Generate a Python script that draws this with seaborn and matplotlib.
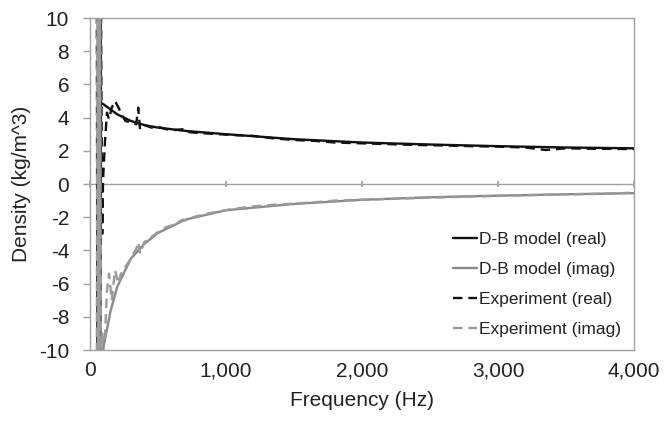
import pandas as pd
import numpy as np
import matplotlib
matplotlib.use("Agg")
import matplotlib.pyplot as plt
import seaborn as sns

# model curves (D-B model)
model_freq = [60, 64, 68, 72, 76, 80, 100, 150, 200, 300, 400, 500, 700, 1000,
              1500, 2000, 2500, 3000, 3500, 4000]
model_real = [12, -12, 12, -12, 12, 4.9, 4.8, 4.5, 4.2, 3.8, 3.55, 3.4, 3.2, 3.0,
              2.7, 2.5, 2.38, 2.28, 2.2, 2.15]
model_imag = [-12, 12, -12, 12, -12, -11.5, -9.8, -7.7, -6.2, -4.5, -3.6, -2.95, -2.15, -1.58,
              -1.2, -0.95, -0.8, -0.7, -0.62, -0.55]

# measured data
exp_freq = [50, 55, 60, 65, 70, 75, 80, 90, 96, 110,
            125, 140, 160, 184, 210, 228, 260, 300, 340, 355,
            368, 400, 450, 500, 560, 620, 680, 700, 760, 850,
            950, 1050, 1200, 1350, 1500, 1650, 1800, 2000, 2200, 2400,
            2600, 2800, 3000, 3200, 3350, 3500, 3700, 3850, 4000]
exp_real = [12, -12, 12, -12, 12, -12, 12, -3, 0.2, 2.5,
            4.3, 3.9, 4.6, 5.0, 4.6, 4.3, 3.8, 3.7, 3.6, 4.6,
            3.3, 3.55, 3.4, 3.45, 3.3, 3.25, 3.3, 3.15, 3.1, 3.05,
            3.0, 2.95, 2.9, 2.75, 2.65, 2.6, 2.5, 2.45, 2.4, 2.35,
            2.32, 2.28, 2.25, 2.2, 2.05, 2.15, 2.12, 2.12, 2.1]
exp_imag = [-12, 12, -12, 12, -12, 12, -10.5, -9, -9.6, -9.2,
            -6.4, -5.4, -7.0, -5.2, -6.0, -5.4, -5.0, -4.5, -3.9, -3.5,
            -4.2, -3.5, -3.2, -2.9, -2.6, -2.45, -2.15, -2.2, -2.0, -1.8,
            -1.65, -1.5, -1.35, -1.25, -1.18, -1.1, -1.0, -0.95, -0.9, -0.85,
            -0.8, -0.75, -0.72, -0.68, -0.65, -0.62, -0.6, -0.57, -0.52]

labels = ["D-B model (real)", "D-B model (imag)", "Experiment (real)", "Experiment (imag)"]

df = pd.concat([
    pd.DataFrame({"f": model_freq, "rho": model_real, "series": labels[0]}),
    pd.DataFrame({"f": model_freq, "rho": model_imag, "series": labels[1]}),
    pd.DataFrame({"f": exp_freq, "rho": exp_real, "series": labels[2]}),
    pd.DataFrame({"f": exp_freq, "rho": exp_imag, "series": labels[3]}),
])

sns.set_theme(style="white")
plt.rcParams["font.family"] = ["Liberation Sans", "DejaVu Sans"]
plt.rcParams["axes.unicode_minus"] = False

fig = plt.figure(figsize=(6.65, 4.26), dpi=100)
ax = fig.add_axes([0.1353, 0.1784, 0.8181, 0.7793])

sns.lineplot(data=df, x="f", y="rho", hue="series", style="series",
             hue_order=labels, style_order=labels,
             palette=["#111111", "#8a8a8a", "#111111", "#9a9a9a"],
             dashes=["", "", (4, 2.5), (4, 2.5)],
             estimator=None, sort=True, linewidth=1.7, ax=ax)

ax.set_xlim(0, 4000)
ax.set_ylim(-10, 10)
ax.set_xticks([0, 1000, 2000, 3000, 4000])
ax.set_xticklabels(["0", "1,000", "2,000", "3,000", "4,000"])
ax.set_yticks(range(-10, 11, 2))

for s in ax.spines.values():
    s.set_color("#a0a0a0")
    s.set_linewidth(1.0)

# horizontal axis crossing at zero
zero = ax.secondary_xaxis(0.5)
for s in zero.spines.values():
    s.set_color("#a0a0a0")
    s.set_linewidth(1.0)
zero.set_xticks([0, 1000, 2000, 3000, 4000])
zero.xaxis.set_ticklabels([])
zero.tick_params(axis="x", length=4, direction="inout", color="#a0a0a0")

ax.tick_params(axis="x", length=0, pad=8, labelsize=15, colors="#222222")
ax.tick_params(axis="y", left=True, length=5, width=1, color="#a0a0a0", pad=10,
               labelsize=15, labelcolor="#222222")

ax.set_xlabel("Frequency (Hz)", fontsize=15, color="#222222", labelpad=8)
ax.set_ylabel("Density (kg/m^3)", fontsize=15, color="#222222", labelpad=6)

leg = ax.legend(loc="lower right", bbox_to_anchor=(1.0, 0.0), frameon=False,
                fontsize=12.5, handlelength=1.4, handletextpad=0.1,
                labelspacing=0.85, borderaxespad=0.35)
for t in leg.get_texts():
    t.set_color("#222222")

fig.savefig("out.png", dpi=100)
